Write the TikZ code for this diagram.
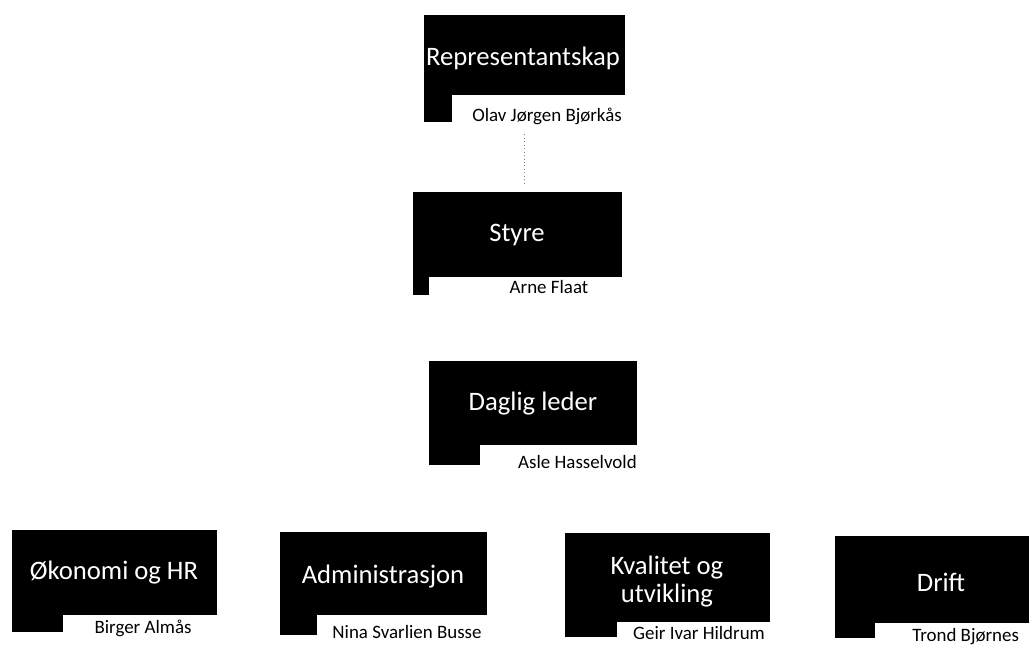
\documentclass[tikz,border=0pt]{standalone}
\usepackage{fontspec}
\setmainfont{Carlito}
\usetikzlibrary{fit}
\begin{document}
\begin{tikzpicture}
[x=0.75pt, y=-0.75pt,
 unit/.style={fill=black, inner sep=0pt},
 title/.style={text=white, font=\fontsize{20}{21}\selectfont, align=center},
 person/.style={font=\fontsize{14.2}{16}\selectfont, inner sep=0pt},
 link/.style={gray, dotted, semithick}]
\useasboundingbox (0,0) rectangle (1029,646);
\clip (0,0) rectangle (1029,646);
% top levels
\node [unit, fit={(424,15) (625,122)}] (rep) {};
\fill [white] (452,95) rectangle (626,123);
\node [title] (reptitle) at (523,58) {Representantskap};
\node [person, anchor=east] (repname) at (622,116) {Olav Jørgen Bjørkås};
\node [unit, fit={(413,192) (622,295)}] (styre) {};
\fill [white] (429,277) rectangle (623,296);
\node [title] (styretitle) at (517,235) {Styre};
\node [person] (styrename) at (549,287) {Arne Flaat};
\node [unit, fit={(429,361) (637,465)}] (leder) {};
\fill [white] (480,445) rectangle (638,466);
\node [title] (ledertitle) at (533,404) {Daglig leder};
\node [person, anchor=east] (ledername) at (637,462) {Asle Hasselvold};
% departments
\node [unit, fit={(12,530) (217,632)}] (okonomi) {};
\fill [white] (63,615) rectangle (218,633);
\node [title] (okonomititle) at (114,573) {Økonomi og HR};
\node [person] (okonominame) at (143,628) {Birger Almås};
\node [unit, fit={(280,532) (487,635)}] (admin) {};
\fill [white] (317,615) rectangle (488,636);
\node [title] (admintitle) at (383,577) {Administrasjon};
\node [person] (adminname) at (407,632) {Nina Svarlien Busse};
\node [unit, fit={(565,533) (770,637)}] (kvalitet) {};
\fill [white] (617,622) rectangle (771,638);
\node [title] (kvalitettitle) at (667,582) {Kvalitet og\\utvikling};
\node [person] (kvalitetname) at (699,633) {Geir Ivar Hildrum};
\node [unit, fit={(835,536) (1047,638)}] (drift) {};
\fill [white] (875,623) rectangle (1048,639);
\node [title] (drifttitle) at (941,582) {Drift};
\node [person, anchor=west] (driftname) at (912,637) {Trond Bjørnes};
\draw [link] ([yshift=-9pt]rep.south) -- ([yshift=5pt]styre.north -| rep.south);
\end{tikzpicture}
\end{document}
